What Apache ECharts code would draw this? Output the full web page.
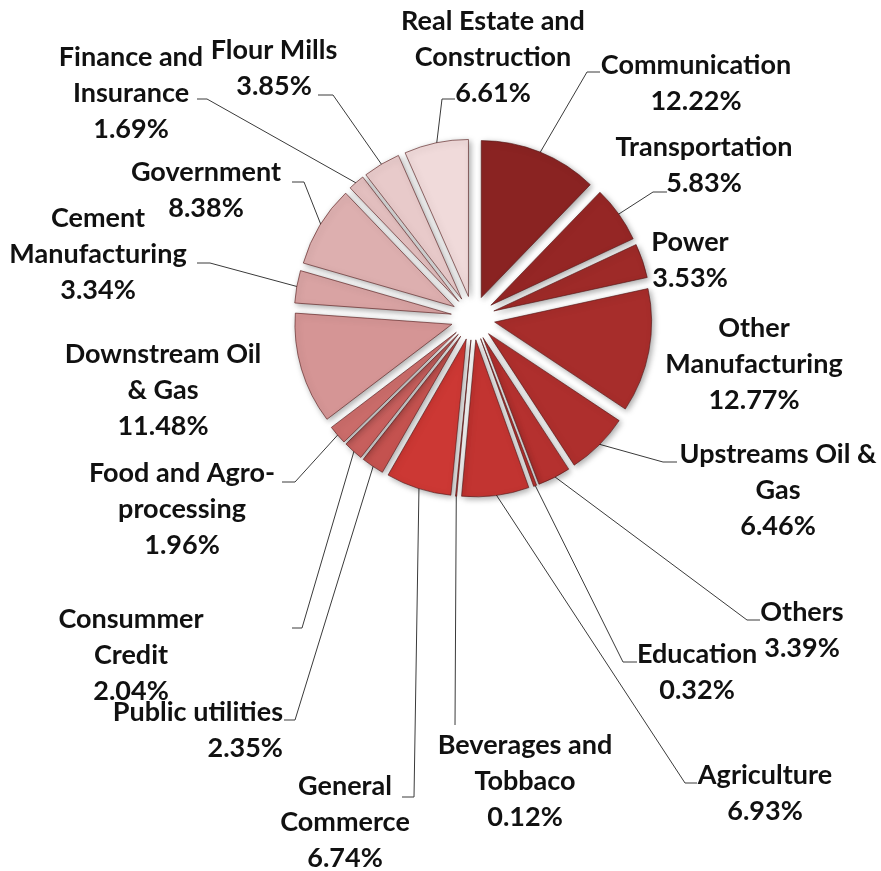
<!DOCTYPE html>
<html>
<head>
<meta charset="utf-8">
<script src="https://cdn.jsdelivr.net/npm/echarts@6/dist/echarts.min.js"></script>
<style>
html,body{margin:0;padding:0;background:#fff;}
#chart{width:881px;height:871px;}
</style>
</head>
<body>
<div id="chart"></div>
<script>
const categories = ['Communication','Transportation','Power','Other Manufacturing','Upstreams Oil & Gas','Others','Education','Agriculture','Beverages and Tobbaco','General Commerce','Public utilities','Consummer Credit','Food and Agro-processing','Downstream Oil & Gas','Cement Manufacturing','Government','Finance and Insurance','Flour Mills','Real Estate and Construction'];
const values = [12.22,5.83,3.53,12.77,6.46,3.39,0.32,6.93,0.12,6.74,2.35,2.04,1.96,11.48,3.34,8.38,1.69,3.85,6.61];
const labelText = ['Communication','Transportation','Power','Other\nManufacturing','Upstreams Oil &\nGas','Others','Education','Agriculture','Beverages and\nTobbaco','General\nCommerce','Public utilities','Consummer\nCredit','Food and Agro-\nprocessing','Downstream Oil\n& Gas','Cement\nManufacturing','Government','Finance and\nInsurance','Flour Mills','Real Estate and\nConstruction'];
const colors = ['#8a2322','#952625','#9e2a28','#a72d2b','#ae2f2d','#b5312f','#b9322f','#c23431','#c43532','#cc3834','#c4524f','#c75f5d','#ca6c6a','#d59595','#d9a3a3','#ddafaf','#e3bfbf','#e8caca','#f0dada'];

// label layout (text block anchor) and leader line elbow/end points
const labelPos = [[696,83],[704,165],[690,260],[754,364],[778,490],[802,630],[697,672],[765,793],[525,781],[345,822],[283,730,'right'],[131,655],[182,509],[163,390],[98,254],[206,190],[131,93],[274,68],[493,57]];
const leaders = [[587,72,600,72],[653,192,667,192],null,null,[663,462,677,462],[747,620,760,620],[623,662,637,662],[685,783,697,783],[455,725,455,725],[414,797,402,797],[295,720,284,720],[302,628,292,628],[295,482,282,482],null,[210,263,197,263],[304,182,292,182],[207,99,197,99],[333,95,318,95],[442,99,455,99]];

const chart = echarts.init(document.getElementById('chart'));
const pieData = categories.map((n, i) => ({
  name: n, value: values[i], selected: true,
  itemStyle: { color: colors[i] }
}));
const labelData = categories.map((n, i) => ({
  name: n, value: values[i],
  labelLine: { show: !!leaders[i] }
}));
chart.setOption({
  animation: false,
  series: [
    {
      type: 'pie',
      center: [473, 318],
      radius: 157,
      startAngle: 90,
      clockwise: true,
      selectedMode: 'multiple',
      selectedOffset: 22,
      label: { show: false },
      labelLine: { show: false },
      emphasis: { disabled: true },
      itemStyle: {
        borderColor: 'rgba(80,20,20,0.6)',
        borderWidth: 1,
        shadowBlur: 6,
        shadowColor: 'rgba(0,0,0,0.35)',
        shadowOffsetX: 2,
        shadowOffsetY: 2
      },
      select: { itemStyle: { borderColor: 'rgba(80,20,20,0.6)', borderWidth: 1 } },
      data: pieData
    },
    {
      type: 'pie',
      center: [473, 318],
      radius: 177,
      startAngle: 90,
      clockwise: true,
      silent: true,
      avoidLabelOverlap: false,
      itemStyle: { color: 'rgba(0,0,0,0)' },
      label: {
        show: true,
        position: 'outside',
        fontFamily: 'Lato',
        fontWeight: 'bold',
        fontSize: 27,
        lineHeight: 36,
        color: '#111',
        formatter: p => labelText[p.dataIndex] + '\n' + values[p.dataIndex].toFixed(2) + '%'
      },
      labelLine: { show: true, length: 10, length2: 10, lineStyle: { color: '#3a3a3a', width: 1 } },
      labelLayout: function (params) {
        const i = params.dataIndex;
        const lp = labelPos[i];
        const out = { x: lp[0], y: lp[1], align: lp[2] || 'center', verticalAlign: 'middle' };
        const ld = leaders[i];
        if (ld && params.labelLinePoints) {
          const p0 = params.labelLinePoints[0];
          out.labelLinePoints = [[p0[0], p0[1]], [ld[0], ld[1]], [ld[2], ld[3]]];
        }
        return out;
      },
      data: labelData
    }
  ]
});
</script>
</body>
</html>
